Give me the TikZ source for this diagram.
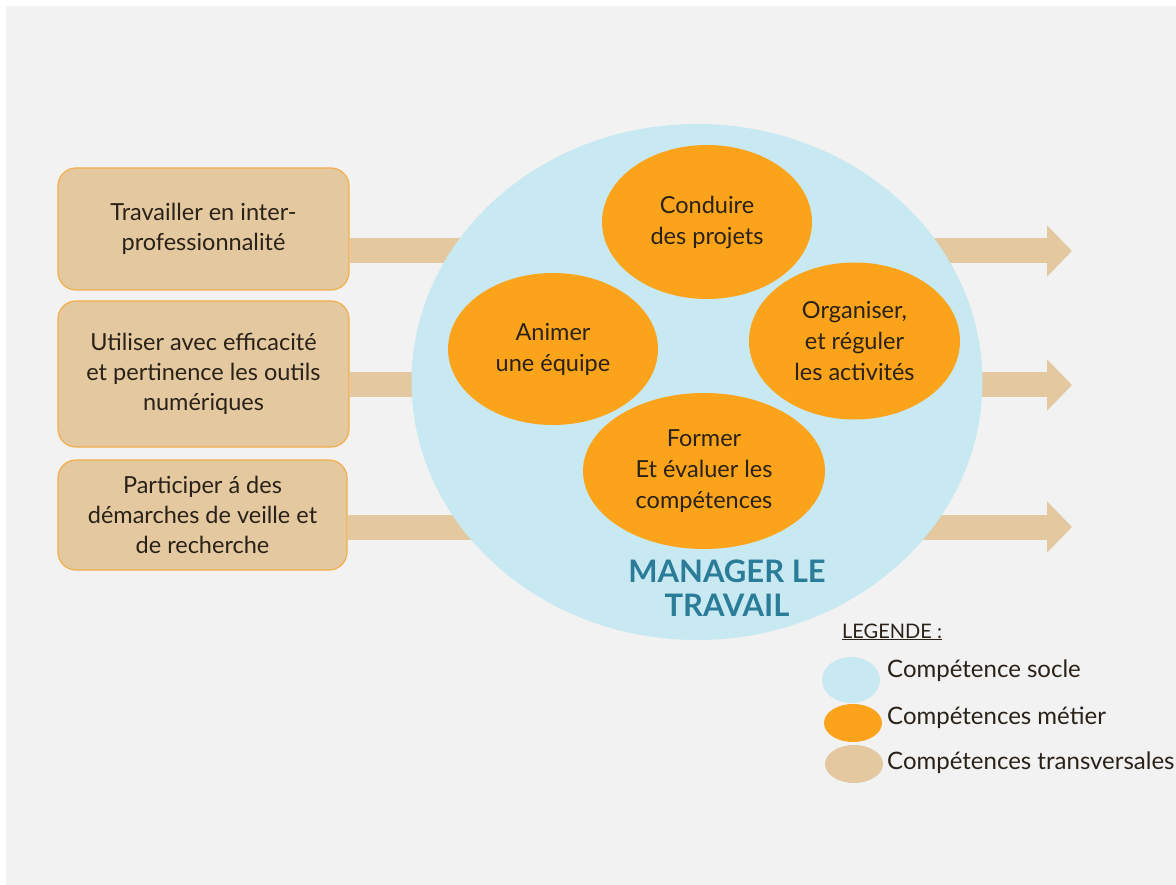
\documentclass[tikz,border=0pt]{standalone}
\usepackage{fontspec}
\setmainfont{Lato}
\usetikzlibrary{shapes.geometric, arrows.meta}
\definecolor{fond}{HTML}{F2F2F2}
\definecolor{socle}{HTML}{C8E9F1}
\definecolor{metier}{HTML}{FBA31A}
\definecolor{transv}{HTML}{E3C8A0}
\definecolor{bord}{HTML}{F2AE4A}
\definecolor{titre}{HTML}{2B7C99}
\definecolor{encre}{HTML}{2A2218}
\tikzset{
  boite/.style={draw=bord, line width=1.2pt, fill=transv, rounded corners=18pt,
    align=center, inner sep=0pt, text=encre, font=\fontsize{23.5}{30}\selectfont},
  metierell/.style={ellipse, fill=metier, inner sep=0pt, align=center,
    text=encre, font=\fontsize{23.5}{31}\selectfont},
  fleche/.style={transv, line width=25pt, -{Triangle[length=25pt,width=50pt]}},
  legende/.style={anchor=west, inner sep=0pt, text=encre, font=\fontsize{24}{28}\selectfont}
}
\begin{document}
\begin{tikzpicture}[x=1pt,y=-1pt]
  \useasboundingbox (0,0) rectangle (1176,885);
  \fill[white] (0,0) rectangle (1176,885);
  \fill[fond] (6,6) rectangle (1176,885);
  % competences transversales
  \node[boite, minimum width=291, minimum height=122] (trav) at (203.5,229)
    {Travailler en inter-\\professionnalité};
  \node[boite, minimum width=291, minimum height=146] (outils) at (203.5,374)
    {Utiliser avec efficacité\\et pertinence les outils\\numériques};
  \node[boite, minimum width=289, minimum height=110] (veille) at (202.5,515)
    {Participer á des\\démarches de veille et\\de recherche};
  \coordinate (fin1) at (1072,251);
  \coordinate (fin2) at (1072,385);
  \coordinate (fin3) at (1072,527);
  \draw[fleche] (trav.east |- fin1) -- (fin1);
  \draw[fleche] (outils.east |- fin2) -- (fin2);
  \draw[fleche] (veille.east |- fin3) -- (fin3);
  % competence socle
  \node[ellipse, fill=socle, inner sep=0pt, minimum width=571, minimum height=516] (socle) at (697,382) {};
  \node[text=titre, align=center, font=\fontsize{31}{34}\selectfont\bfseries] (titre) at (727,588)
    {MANAGER LE\\TRAVAIL};
  % competences metier
  \node[metierell, minimum width=210, minimum height=154] (conduire) at (707,222)
    {Conduire\\des projets};
  \node[metierell, minimum width=210, minimum height=152] (animer) at (553,349)
    {Animer\\une équipe};
  \node[metierell, minimum width=211, minimum height=157] (organiser) at (854.5,341)
    {Organiser,\\et réguler\\les activités};
  \node[metierell, minimum width=242, minimum height=156] (former) at (704,471)
    {Former\\Et évaluer les\\compétences};
  % legende
  \node[anchor=base west, inner sep=0pt, text=encre, font=\fontsize{20}{24}\selectfont] (leg) at (842,638)
    {\underline{LEGENDE :}};
  \node[ellipse, fill=socle, minimum width=58, minimum height=46, inner sep=0pt] (lsocle) at (851,680) {};
  \node[ellipse, fill=metier, minimum width=58, minimum height=38, inner sep=0pt] (lmetier) at (853,723) {};
  \node[ellipse, fill=transv, minimum width=58, minimum height=38, inner sep=0pt] (ltransv) at (854,764) {};
  \node[legende] at (887,671) {Compétence socle};
  \node[legende] at (887,718) {Compétences métier};
  \node[legende] at (887,763) {Compétences transversales};
\end{tikzpicture}
\end{document}
